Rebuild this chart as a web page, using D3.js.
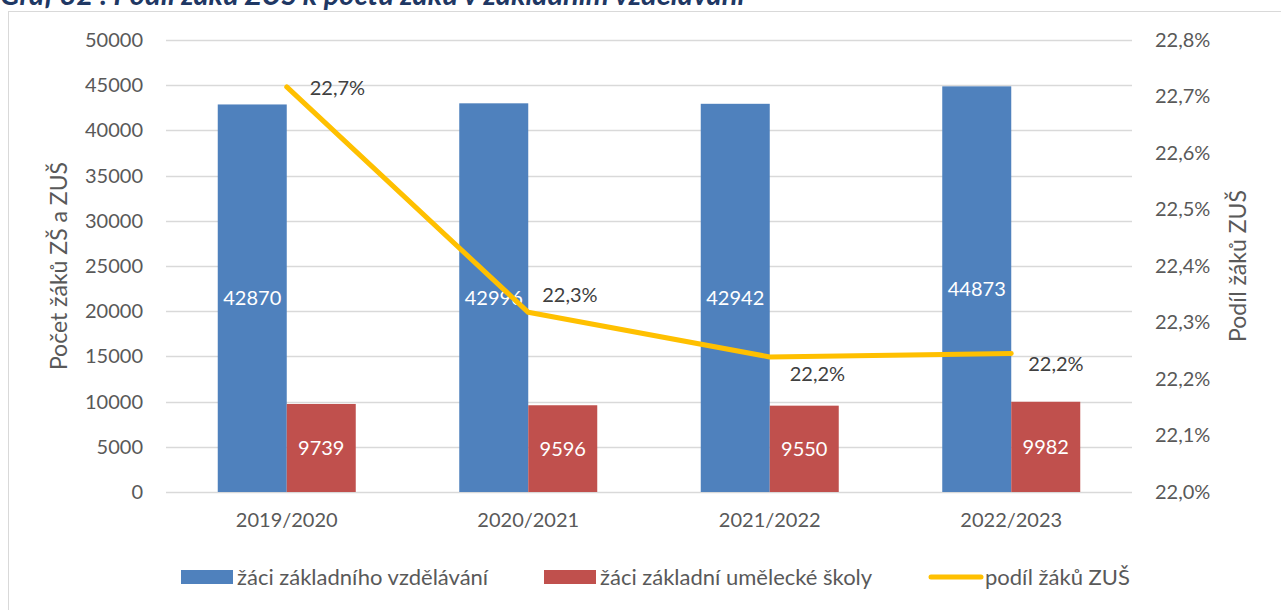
<!DOCTYPE html>
<html>
<head>
<meta charset="utf-8">
<script src="https://cdn.jsdelivr.net/npm/d3@7"></script>
<style>
  body { margin: 0; background: #fff; }
  svg { display: block; font-family: Lato, "Open Sans", sans-serif; }
</style>
</head>
<body>
<script>
// Data
const years = ["2019/2020", "2020/2021", "2021/2022", "2022/2023"];
const zakyZV = [42870, 42996, 42942, 44873];
const zakyZUS = [9739, 9596, 9550, 9982];
const podilZUS = [22.717, 22.318, 22.239, 22.245];
const leftTicks = [0, 5000, 10000, 15000, 20000, 25000, 30000, 35000, 40000, 45000, 50000];
const rightTicks = [22.0, 22.1, 22.2, 22.3, 22.4, 22.5, 22.6, 22.7, 22.8];
const seriesNames = ["žáci základního vzdělávání", "žáci základní umělecké školy", "podíl žáků ZUŠ"];

// label offsets for the line labels (dx from point, dy to label centre)
const lineLabelOffset = [[23, 1], [14, -17], [20, 17], [17, 10]];

const width = 1281, height = 610;
const margin = { top: 40, right: 149, bottom: 118, left: 166 };
const colors = { zv: "#4F81BD", zus: "#C0504D", line: "#FFC000" };

const svg = d3.select("body").append("svg")
    .attr("width", width)
    .attr("height", height);

// title (cut off at top) and outer frame
svg.append("text")
    .attr("x", 0)
    .attr("y", 5)
    .attr("fill", "#1F3864")
    .attr("font-size", 29)
    .attr("font-weight", "bold")
    .attr("font-style", "italic")
    .text("Graf 32 : Podíl žáků ZUŠ k počtu žáků v základním vzdělávání");

svg.append("rect")
    .attr("x", 8.5).attr("y", 11.5)
    .attr("width", 1300).attr("height", 620)
    .attr("fill", "none")
    .attr("stroke", "#D9D9D9");

// scales
const x0 = d3.scaleBand()
    .domain(years)
    .range([margin.left, width - margin.right]);

const x1 = d3.scaleBand()
    .domain(["zv", "zus"])
    .range([0, x0.bandwidth()])
    .paddingOuter(0.75);

const y = d3.scaleLinear()
    .domain([0, 50000])
    .range([height - margin.bottom, margin.top]);

const y2 = d3.scaleLinear()
    .domain([22.0, 22.8])
    .range([height - margin.bottom, margin.top]);

// gridlines
svg.append("g")
    .selectAll("line")
    .data(leftTicks)
    .join("line")
    .attr("x1", margin.left)
    .attr("x2", width - margin.right)
    .attr("y1", d => Math.round(y(d)) + 0.5)
    .attr("y2", d => Math.round(y(d)) + 0.5)
    .attr("stroke", "#D9D9D9")
    .attr("stroke-width", 1.3);

// left axis
const axisL = svg.append("g")
    .attr("transform", `translate(${margin.left},0)`)
    .call(d3.axisLeft(y).tickValues(leftTicks).tickSize(0).tickPadding(23).tickFormat(d3.format("d")));
axisL.select(".domain").remove();
axisL.selectAll("text").attr("font-size", 20).attr("fill", "#595959").attr("font-family", "Lato");

// right axis
const fmtPct = d => d3.format(".1f")(d).replace(".", ",") + "%";
const axisR = svg.append("g")
    .attr("transform", `translate(${width - margin.right},0)`)
    .call(d3.axisRight(y2).tickValues(rightTicks).tickSize(0).tickPadding(23).tickFormat(fmtPct));
axisR.select(".domain").remove();
axisR.selectAll("text").attr("font-size", 20).attr("fill", "#595959").attr("font-family", "Lato");

// bottom axis
const axisB = svg.append("g")
    .attr("transform", `translate(0,${height - margin.bottom})`)
    .call(d3.axisBottom(x0).tickSize(0).tickPadding(21));
axisB.select(".domain").remove();
axisB.selectAll("text").attr("font-size", 20).attr("fill", "#595959").attr("font-family", "Lato");

// axis titles
svg.append("text")
    .attr("transform", `translate(67,${(margin.top + height - margin.bottom) / 2}) rotate(-90)`)
    .attr("text-anchor", "middle")
    .attr("font-size", 23)
    .attr("fill", "#595959")
    .text("Počet žáků ZŠ a ZUŠ");

svg.append("text")
    .attr("transform", `translate(1246,${(margin.top + height - margin.bottom) / 2}) rotate(-90)`)
    .attr("text-anchor", "middle")
    .attr("font-size", 23)
    .attr("fill", "#595959")
    .text("Podíl žáků ZUŠ");

// bars
const barData = years.map((yr, i) => ({ yr, zv: zakyZV[i], zus: zakyZUS[i] }));
const groups = svg.append("g")
    .selectAll("g")
    .data(barData)
    .join("g")
    .attr("transform", d => `translate(${x0(d.yr)},0)`);

["zv", "zus"].forEach(key => {
    groups.append("rect")
        .attr("x", x1(key))
        .attr("y", d => y(d[key]))
        .attr("width", x1.bandwidth())
        .attr("height", d => y(0) - y(d[key]))
        .attr("fill", colors[key]);

    groups.append("text")
        .attr("x", x1(key) + x1.bandwidth() / 2)
        .attr("y", d => (y(d[key]) + y(0)) / 2)
        .attr("dy", "0.35em")
        .attr("text-anchor", "middle")
        .attr("font-size", 20)
        .attr("fill", "#fff")
        .text(d => d[key]);
});

// line
const lineData = years.map((yr, i) => ({ yr, v: podilZUS[i] }));
const line = d3.line()
    .x(d => x0(d.yr) + x0.bandwidth() / 2)
    .y(d => y2(d.v));

svg.append("path")
    .datum(lineData)
    .attr("d", line)
    .attr("fill", "none")
    .attr("stroke", colors.line)
    .attr("stroke-width", 5)
    .attr("stroke-linecap", "round")
    .attr("stroke-linejoin", "round");

svg.append("g")
    .selectAll("text")
    .data(lineData)
    .join("text")
    .attr("x", (d, i) => x0(d.yr) + x0.bandwidth() / 2 + lineLabelOffset[i][0])
    .attr("y", (d, i) => y2(d.v) + lineLabelOffset[i][1])
    .attr("dy", "0.35em")
    .attr("font-size", 20)
    .attr("fill", "#404040")
    .text(d => fmtPct(d.v));

// legend
const legendItems = [
    { name: seriesNames[0], type: "rect", color: colors.zv, x: 181 },
    { name: seriesNames[1], type: "rect", color: colors.zus, x: 544 },
    { name: seriesNames[2], type: "line", color: colors.line, x: 929 }
];
const legend = svg.append("g")
    .selectAll("g")
    .data(legendItems)
    .join("g")
    .attr("transform", d => `translate(${d.x},577)`);

legend.filter(d => d.type === "rect")
    .append("rect")
    .attr("x", 0).attr("y", -7)
    .attr("width", 52).attr("height", 14)
    .attr("fill", d => d.color);

legend.filter(d => d.type === "line")
    .append("line")
    .attr("x1", 2).attr("x2", 52)
    .attr("y1", 0).attr("y2", 0)
    .attr("stroke", d => d.color)
    .attr("stroke-width", 5)
    .attr("stroke-linecap", "round");

legend.append("text")
    .attr("x", 56)
    .attr("dy", "0.35em")
    .attr("font-size", 22)
    .attr("fill", "#595959")
    .text(d => d.name);
</script>
</body>
</html>
